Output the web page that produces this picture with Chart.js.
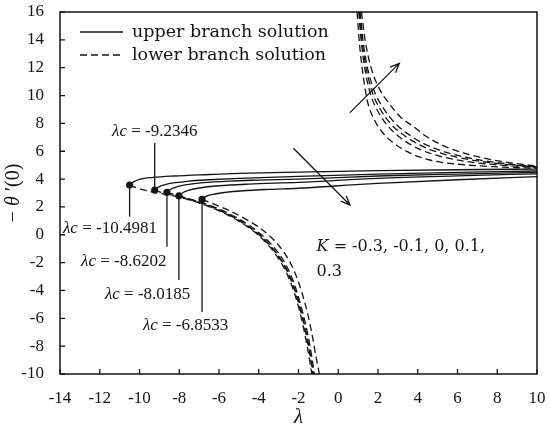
<!DOCTYPE html>
<html>
<head>
<meta charset="utf-8">
<script src="https://cdn.jsdelivr.net/npm/chart.js@4.4.1/dist/chart.umd.min.js"></script>
<style>
  html, body { margin: 0; padding: 0; background: #fff; }
  canvas { display: block; }
</style>
</head>
<body>
<canvas id="chart" width="550" height="430"></canvas>
<script>
// K values, critical points (λc, -θ'(0) at λc)
const kValues = ["-0.3", "-0.1", "0", "0.1", "0.3"];
const lambdaC = [-10.4981, -9.2346, -8.6202, -8.0185, -6.8533];
const thetaC = [3.57, 3.21, 3.05, 2.80, 2.54];

// upper branch (solid), one per K
const upperM03 = [[-10.4981, 3.57], [-10.3, 3.8], [-10, 3.98], [-9.3, 4.12], [-8.3, 4.22], [-6.5, 4.33], [-5, 4.41], [-2, 4.5], [2, 4.6], [6, 4.67], [10, 4.72]];
const upperM01 = [[-9.2346, 3.21], [-9.05, 3.42], [-8.7, 3.6], [-8.3, 3.72], [-7.5, 3.86], [-6.5, 3.95], [-5, 4.05], [-2, 4.2], [2, 4.36], [6, 4.48], [10, 4.58]];
const upperZ0 = [[-8.6202, 3.05], [-8.45, 3.25], [-8.1, 3.45], [-7.6, 3.6], [-6.8, 3.74], [-5.5, 3.86], [-4, 3.93], [-2, 4.0], [2, 4.22], [6, 4.36], [10, 4.48]];
const upperP01 = [[-8.0185, 2.80], [-7.85, 3.0], [-7.5, 3.2], [-7, 3.36], [-6, 3.52], [-4.5, 3.64], [-2, 3.76], [2, 4.05], [6, 4.23], [10, 4.38]];
const upperP03 = [[-6.8533, 2.54], [-6.7, 2.72], [-6.3, 2.9], [-5.7, 3.04], [-4.8, 3.16], [-3.5, 3.26], [-2, 3.34], [0, 3.52], [2, 3.69], [6, 3.95], [10, 4.17]];

// lower branch (dashed), left part down to -10
const lowerM03 = [[-10.4981, 3.57], [-10.2, 3.4], [-9.5, 3.12], [-8.5, 2.85], [-7.5, 2.5], [-6.5, 2.02], [-5.5, 1.38], [-4.5, 0.5], [-4, -0.05], [-3.5, -0.78], [-3, -1.72], [-2.6, -2.75], [-2.25, -4.0], [-1.95, -5.45], [-1.7, -7.0], [-1.5, -8.5], [-1.33, -10]];
const lowerM01 = [[-9.2346, 3.21], [-9.0, 3.08], [-8.5, 2.9], [-7.5, 2.53], [-6.5, 2.06], [-5.5, 1.43], [-4.5, 0.56], [-4, 0.02], [-3.5, -0.68], [-3, -1.58], [-2.6, -2.55], [-2.25, -3.75], [-1.95, -5.15], [-1.68, -6.75], [-1.46, -8.35], [-1.27, -10]];
const lowerZ0 = [[-8.6202, 3.05], [-8.4, 2.95], [-7.5, 2.56], [-6.5, 2.09], [-5.5, 1.46], [-4.5, 0.6], [-4, 0.06], [-3.5, -0.63], [-3, -1.51], [-2.6, -2.47], [-2.25, -3.63], [-1.93, -5.1], [-1.66, -6.7], [-1.44, -8.3], [-1.24, -10]];
const lowerP01 = [[-8.0185, 2.80], [-7.8, 2.7], [-7.5, 2.59], [-6.5, 2.13], [-5.5, 1.53], [-4.5, 0.7], [-4, 0.17], [-3.5, -0.48], [-3, -1.32], [-2.6, -2.24], [-2.25, -3.38], [-1.92, -4.88], [-1.63, -6.5], [-1.4, -8.15], [-1.2, -10]];
const lowerP03 = [[-6.8533, 2.54], [-6.6, 2.4], [-6, 2.05], [-5.5, 1.75], [-4.5, 1.0], [-4, 0.55], [-3.5, -0.02], [-3, -0.75], [-2.6, -1.55], [-2.2, -2.65], [-1.85, -4.05], [-1.55, -5.6], [-1.3, -7.3], [-1.1, -8.9], [-0.95, -10]];

// lower branch (dashed), right part coming down from +16
const rightM03 = [[0.95, 16], [1.05, 14], [1.2, 12], [1.45, 9.7], [1.8, 8.3], [2.2, 7.4], [2.6, 6.8], [3.5, 5.95], [4.6, 5.37], [6, 5.07], [7.8, 4.89], [10, 4.77]];
const rightM01 = [[1.03, 16], [1.15, 14], [1.33, 12], [1.62, 10.1], [2.0, 8.85], [2.5, 7.8], [3.1, 7.0], [4.0, 6.2], [5.1, 5.65], [6.4, 5.27], [7.8, 5.05], [10, 4.83]];
const rightZ0 = [[1.06, 16], [1.19, 14], [1.4, 12], [1.72, 10.2], [2.1, 9.05], [2.65, 7.95], [3.3, 7.15], [4.2, 6.38], [5.2, 5.85], [6.4, 5.45], [7.8, 5.15], [10, 4.86]];
const rightP01 = [[1.1, 16], [1.24, 14], [1.47, 12], [1.82, 10.3], [2.2, 9.25], [2.8, 8.1], [3.45, 7.3], [4.3, 6.55], [5.3, 5.98], [6.45, 5.55], [7.8, 5.22], [10, 4.88]];
const rightP03 = [[1.17, 16], [1.35, 14], [1.65, 12], [2.1, 10.4], [2.45, 9.65], [3.1, 8.5], [3.8, 7.75], [4.5, 7.0], [5.45, 6.3], [6.5, 5.8], [7.8, 5.37], [10, 4.92]];

const upperSets = [upperM03, upperM01, upperZ0, upperP01, upperP03];
const lowerSets = [lowerM03, lowerM01, lowerZ0, lowerP01, lowerP03];
const rightSets = [rightM03, rightM01, rightZ0, rightP01, rightP03];

// annotations (data units)
const criticalLabels = ["-10.4981", "-9.2346", "-8.6202", "-8.0185", "-6.8533"];
const leaderEndY = [1.3, 6.6, -0.86, -3.25, -5.55];
const labelPos = [[-13.85, 0.48], [-11.38, 7.38], [-12.94, -1.89], [-11.74, -4.28], [-9.83, -6.49]];
const kLabelLines = ["K = -0.3, -0.1, 0, 0.1,", "0.3"];
const kLabelPos = [[-1.09, -0.86], [-1.09, -2.66]];
const arrows = [[[-2.26, 6.21], [0.59, 2.14]], [[0.59, 8.77], [3.07, 12.31]]];
const legendLabels = ["upper branch solution", "lower branch solution"];

const xTicks = { min: -14, max: 10, step: 2 };
const yTicks = { min: -10, max: 16, step: 2 };

const INK = "#141414";
const SERIF = "'Liberation Serif', serif";
const DASH = [7, 4];

const toXY = (pairs) => pairs.map(([x, y]) => ({ x, y }));

function curve(pairs, dashed) {
  return {
    data: toXY(pairs),
    borderColor: INK,
    borderWidth: 1.3,
    borderDash: dashed ? DASH : [],
    pointRadius: 0,
    fill: false,
    cubicInterpolationMode: "monotone",
  };
}

const datasets = [];
upperSets.forEach((s) => datasets.push(curve(s, false)));
lowerSets.forEach((s) => datasets.push(curve(s, true)));
rightSets.forEach((s) => datasets.push(curve(s, true)));
datasets.push({
  data: lambdaC.map((x, i) => ({ x, y: thetaC[i] })),
  showLine: false,
  pointRadius: 3.6,
  pointBackgroundColor: INK,
  pointBorderColor: INK,
  pointBorderWidth: 0,
});

// tick label overhang would otherwise push the plot area in
function fixBox(size, key) {
  return (s) => {
    s[key] = size;
    s.paddingTop = 0;
    s.paddingBottom = 0;
    s.paddingLeft = 0;
    s.paddingRight = 0;
  };
}

// frame, inward ticks, leaders, labels, arrows, legend, y title
const overlay = {
  id: "overlay",
  afterDatasetsDraw(chart) {
    const { ctx, chartArea: a, scales: { x, y } } = chart;
    const px = (v) => x.getPixelForValue(v);
    const py = (v) => y.getPixelForValue(v);
    ctx.save();
    ctx.strokeStyle = INK;
    ctx.fillStyle = INK;

    ctx.lineWidth = 1.5;
    ctx.strokeRect(a.left, a.top, a.right - a.left, a.bottom - a.top);

    ctx.lineWidth = 1.3;
    ctx.beginPath();
    x.ticks.forEach((t) => { const p = px(t.value); ctx.moveTo(p, a.bottom); ctx.lineTo(p, a.bottom - 5); });
    y.ticks.forEach((t) => { const p = py(t.value); ctx.moveTo(a.left, p); ctx.lineTo(a.left + 5, p); });
    ctx.stroke();

    // leader lines
    ctx.beginPath();
    lambdaC.forEach((lc, i) => {
      ctx.moveTo(px(lc), py(thetaC[i]));
      ctx.lineTo(px(lc), py(leaderEndY[i]));
    });
    ctx.stroke();

    // λc labels
    ctx.textBaseline = "middle";
    ctx.textAlign = "left";
    criticalLabels.forEach((txt, i) => {
      let cx = px(labelPos[i][0]);
      const cy = py(labelPos[i][1]);
      ctx.font = `italic 17px ${SERIF}`;
      ctx.fillText("λc", cx, cy);
      cx += ctx.measureText("λc").width;
      ctx.font = `17px ${SERIF}`;
      ctx.fillText(" = " + txt, cx, cy);
    });

    // K label
    kLabelLines.forEach((line, i) => {
      let cx = px(kLabelPos[i][0]);
      const cy = py(kLabelPos[i][1]);
      if (line.startsWith("K")) {
        ctx.font = "italic 16px 'DejaVu Serif'";
        ctx.fillText("K", cx, cy);
        cx += ctx.measureText("K").width;
        line = line.slice(1);
      }
      ctx.font = "16px 'DejaVu Serif'";
      ctx.fillText(line, cx, cy);
    });

    // arrows
    arrows.forEach(([s, e]) => {
      const x0 = px(s[0]), y0 = py(s[1]), x1 = px(e[0]), y1 = py(e[1]);
      const ang = Math.atan2(y1 - y0, x1 - x0);
      ctx.beginPath();
      ctx.moveTo(x0, y0);
      ctx.lineTo(x1, y1);
      ctx.moveTo(x1 - 10 * Math.cos(ang - 0.4), y1 - 10 * Math.sin(ang - 0.4));
      ctx.lineTo(x1, y1);
      ctx.lineTo(x1 - 10 * Math.cos(ang + 0.4), y1 - 10 * Math.sin(ang + 0.4));
      ctx.stroke();
    });

    // legend
    ctx.font = "17.5px 'DejaVu Serif'";
    legendLabels.forEach((txt, i) => {
      const ly = a.top + 20 + i * 23;
      ctx.setLineDash(i === 0 ? [] : DASH);
      ctx.beginPath();
      ctx.moveTo(a.left + 20, ly);
      ctx.lineTo(a.left + 63, ly);
      ctx.stroke();
      ctx.setLineDash([]);
      ctx.fillText(txt, a.left + 72, ly);
    });

    // y axis title: − θ ′(0)
    ctx.translate(14, (a.top + a.bottom) / 2);
    ctx.rotate(-Math.PI / 2);
    const parts = [["− ", ""], ["θ", "italic "], [" ′(0)", ""]];
    let w = 0;
    parts.forEach(([t, st]) => { ctx.font = `${st}20px ${SERIF}`; w += ctx.measureText(t).width; });
    let cx = -w / 2;
    parts.forEach(([t, st]) => {
      ctx.font = `${st}20px ${SERIF}`;
      ctx.fillText(t, cx, 0);
      cx += ctx.measureText(t).width;
    });
    ctx.restore();
  },
};

new Chart(document.getElementById("chart"), {
  type: "line",
  data: { datasets },
  options: {
    responsive: false,
    animation: false,
    layout: { padding: { top: 12, right: 13, left: 0, bottom: 0 } },
    plugins: { legend: { display: false }, tooltip: { enabled: false } },
    scales: {
      x: {
        type: "linear",
        min: xTicks.min,
        max: xTicks.max,
        grid: { display: false, drawTicks: false },
        border: { display: false },
        ticks: { stepSize: xTicks.step, autoSkip: false, maxRotation: 0, color: INK, padding: 14, font: { family: SERIF, size: 17 } },
        title: { display: true, text: "λ", color: INK, font: { family: SERIF, size: 21, style: "italic" }, padding: { top: 0, bottom: 0 } },
        afterFit: fixBox(56, "height"),
      },
      y: {
        type: "linear",
        min: yTicks.min,
        max: yTicks.max,
        grid: { display: false, drawTicks: false },
        border: { display: false },
        ticks: { stepSize: yTicks.step, autoSkip: false, color: INK, padding: 16, font: { family: SERIF, size: 17 } },
        afterFit: fixBox(60, "width"),
      },
    },
  },
  plugins: [overlay],
});
</script>
</body>
</html>
